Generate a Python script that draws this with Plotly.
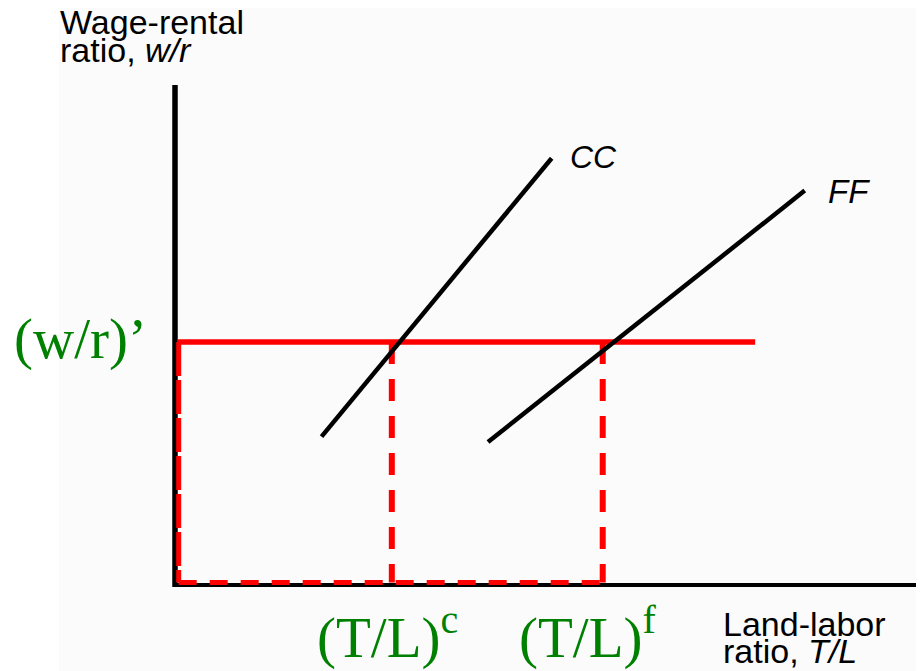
import plotly.graph_objects as go

# ---- data (economic units) ----
cc_x = [1.98, 5.09]
cc_y = [2.98, 8.57]
ff_x = [4.23, 8.51]
ff_y = [2.87, 7.92]
wr_prime = 4.88          # (w/r)'
tl_c = 2.93              # (T/L)^c
tl_f = 5.78              # (T/L)^f
wr_line_end = 7.84       # end of the horizontal (w/r)' line
axis_x_max = 10.04
axis_y_max = 10.04
guide_off = 0.05         # small offset of the dashed guides from the axes

# ---- pixel mapping (layout only) ----
PAGE_W, PAGE_H = 924, 671
PAD = 8                              # default body margin of the page
W, H = PAGE_W - PAD, PAGE_H - PAD    # figure fills page to right/bottom edge
ox, oy = 175, 585                    # page pixel position of origin
sx, sy = 74.0, 49.8                  # pixels per unit
x_range = [-(ox - PAD) / sx, (PAGE_W - ox) / sx]
y_range = [-(PAGE_H - oy) / sy, (oy - PAD) / sy]

BLACK = "#000000"
RED = "#ff0000"
GREEN = "#008000"

fig = go.Figure()

def line(x, y, color, width, dash="solid"):
    fig.add_trace(go.Scatter(x=x, y=y, mode="lines",
                             line=dict(color=color, width=width, dash=dash),
                             hoverinfo="skip", showlegend=False))

# axes
line([0, 0], [-0.04, axis_y_max], BLACK, 5.5)
line([0, axis_x_max], [0, 0], BLACK, 4)

# red guides
line([guide_off, guide_off], [wr_prime, guide_off], RED, 5, "34px,4px")
line([guide_off, tl_f], [guide_off, guide_off], RED, 5, "18px,13px")
line([tl_c, tl_c], [wr_prime, guide_off], RED, 6, "22px,15px")
line([tl_f, tl_f], [wr_prime, guide_off], RED, 6, "22px,15px")
line([0.04, wr_line_end], [wr_prime, wr_prime], RED, 5.5)

# curves
line(cc_x, cc_y, BLACK, 4.5)
line(ff_x, ff_y, BLACK, 4.5)

def px_x(p):
    return (p - ox) / sx

def px_y(p):
    return (oy - p) / sy

ann = []
def label(text, x_px, mid_px, size, family, color):
    ann.append(dict(text=text, x=px_x(x_px), y=px_y(mid_px), xref="x", yref="y",
                    xanchor="left", yanchor="middle", showarrow=False,
                    font=dict(size=size, family=family, color=color)))

SANS = "Liberation Sans, Arial, sans-serif"
SERIF = "Liberation Serif, Times New Roman, serif"

label("Wage-rental", 58, 22, 34, SANS, BLACK)
label("ratio, <i>w/r</i>", 58, 50, 34, SANS, BLACK)
label("Land-labor", 721, 624, 34, SANS, BLACK)
label("ratio, <i>T/L</i>", 721, 651, 34, SANS, BLACK)
label("<i>CC</i>", 568, 157, 32, SANS, BLACK)
label("<i>FF</i>", 826, 191, 33, SANS, BLACK)
label("(w/r)’", 12, 339, 57, SERIF, GREEN)
label("(T/L)<sup>c</sup>", 315, 633, 57, SERIF, GREEN)
label("(T/L)<sup>f</sup>", 517, 633, 57, SERIF, GREEN)

fig.update_layout(
    width=W, height=H,
    margin=dict(l=0, r=0, t=0, b=0),
    paper_bgcolor="#ffffff",
    plot_bgcolor="rgba(0,0,0,0)",
    xaxis=dict(range=x_range, visible=False, fixedrange=True),
    yaxis=dict(range=y_range, visible=False, fixedrange=True),
    annotations=ann,
    shapes=[dict(type="rect", xref="paper", yref="paper",
                 x0=(59 - PAD) / W, x1=1, y0=0, y1=1,
                 fillcolor="#fbfbfb", line=dict(width=0), layer="below")],
    showlegend=False,
)

fig.write_html("out.html")
